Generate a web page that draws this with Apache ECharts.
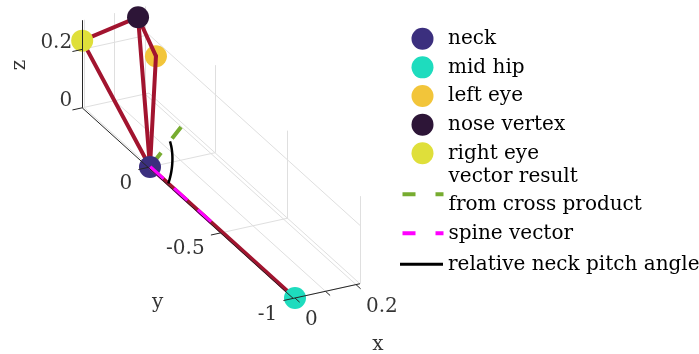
<!DOCTYPE html>
<html>
<head>
<meta charset="utf-8">
<script src="https://cdn.jsdelivr.net/npm/echarts@6/dist/echarts.min.js"></script>
<style>
  html, body { margin: 0; padding: 0; background: #ffffff; }
  #chart { width: 699px; height: 354px; }
</style>
</head>
<body>
<div id="chart"></div>
<script>
// Joint positions (body frame: x lateral, y along the spine, z forward)
const jointNames = ['neck', 'mid hip', 'left eye', 'nose vertex', 'right eye'];
const jointX = [0, 0, 0.213, 0.150, -0.006];
const jointY = [0, -1, 0.407, 0.398, 0.455];
const jointZ = [0, 0, 0.148, 0.300, 0.230];

// Skeleton links, as index pairs into the joint arrays
const linkFrom = [0, 0, 0, 0, 4, 3];
const linkTo   = [1, 4, 3, 2, 3, 2];

// Vectors anchored at the neck
const crossVector = [0.059, -0.090, 0.164];
const spineVector = [0, -0.42, 0];
const angleArcRadius = 0.126;

// Axis limits and ticks
const xLimits = [-0.006, 0.213];
const yLimits = [-1, 0.455];
const zLimits = [0, 0.30];
const xTicks = [0, 0.1, 0.2];
const xTickLabels = ['0', '', '0.2'];
const yTicks = [-1, -0.5, 0];
const yTickLabels = ['-1', '-0.5', '0'];
const zTicks = [0, 0.2];
const zTickLabels = ['0', '0.2'];

// ---- styles ----
const FONT = 'DejaVu Serif';
const FONT_SIZE = 20;
const jointColors = ['#3b2f7e', '#1edcbe', '#f2c53a', '#2d1537', '#dfdf3a'];
const LINK_COLOR = '#a2142f';
const CROSS_COLOR = '#77ac30';
const SPINE_COLOR = '#ff00ff';
const GRID_COLOR = '#dfdfdf';
const AXIS_COLOR = '#262626';
const MARKER_SIZE = 22;

// Orthographic 3-D view: screen displacement (px) per data unit along each axis
const VIEW = { origin: [150, 167], ex: [305, -67], ey: [-145, -131], ez: [0, -292] };
function proj(p) {
  return [
    VIEW.origin[0] + p[0] * VIEW.ex[0] + p[1] * VIEW.ey[0] + p[2] * VIEW.ez[0],
    VIEW.origin[1] + p[0] * VIEW.ex[1] + p[1] * VIEW.ey[1] + p[2] * VIEW.ez[1]
  ];
}
const seg = (a, b) => ({ coords: [proj(a), proj(b)] });
const add = (a, b) => [a[0] + b[0], a[1] + b[1], a[2] + b[2]];
const scale = (a, s) => [a[0] * s, a[1] * s, a[2] * s];
const dot = (a, b) => a[0] * b[0] + a[1] * b[1] + a[2] * b[2];
const norm = a => Math.sqrt(dot(a, a));

const joint = i => [jointX[i], jointY[i], jointZ[i]];
const neck = joint(0);
const [x0, x1] = xLimits, [y0, y1] = yLimits, [z0, z1] = zLimits;

// Grid lines on the floor and the two back walls
const gridSegs = [];
xTicks.forEach(t => {
  gridSegs.push(seg([t, y0, z0], [t, y1, z0]));
  gridSegs.push(seg([t, y1, z0], [t, y1, z1]));
});
yTicks.forEach(t => {
  gridSegs.push(seg([x0, t, z0], [x1, t, z0]));
  gridSegs.push(seg([x1, t, z0], [x1, t, z1]));
});
zTicks.forEach(t => {
  gridSegs.push(seg([x1, y0, t], [x1, y1, t]));
  gridSegs.push(seg([x0, y1, t], [x1, y1, t]));
});

// Axis lines and tick marks
const TICK = 0.032;
const axisSegs = [
  seg([x0, y0, z0], [x1, y0, z0]),
  seg([x0, y0, z0], [x0, y1, z0]),
  seg([x0, y1, z0], [x0, y1, z1])
];
xTicks.forEach(t => axisSegs.push(seg([t, y0, z0], [t, y0 - TICK, z0])));
yTicks.forEach(t => axisSegs.push(seg([x0, t, z0], [x0 - TICK, t, z0])));
zTicks.forEach(t => axisSegs.push(seg([x0, y1, t], [x0 - TICK, y1, t])));

// Skeleton links
const linkSegs = linkFrom.map((f, k) => seg(joint(f), joint(linkTo[k])));

// Angle arc between the spine vector and the cross-product vector
const u = scale(spineVector, 1 / norm(spineVector));
const g = scale(crossVector, 1 / norm(crossVector));
const theta = Math.acos(dot(u, g));
const wRaw = add(g, scale(u, -Math.cos(theta)));
const w = scale(wRaw, 1 / norm(wRaw));
const arcPts = [];
for (let k = 0; k <= 40; k++) {
  const t = theta * k / 40;
  arcPts.push(proj(add(neck, scale(add(scale(u, Math.cos(t)), scale(w, Math.sin(t))), angleArcRadius))));
}

// Text items (tick labels and axis titles); offsets are given in the label's own frame
function textItem(p, text, align, dx, dy, rotate) {
  return {
    value: proj(p),
    label: {
      show: true, formatter: text, position: 'inside', align: align, verticalAlign: 'middle',
      offset: [dx, dy], rotate: rotate || 0,
      fontFamily: FONT, fontSize: FONT_SIZE, color: '#000'
    }
  };
}
const texts = [];
zTicks.forEach((t, i) => texts.push(textItem([x0, y1, t], zTickLabels[i], 'right', -10, -7)));
yTicks.forEach((t, i) => texts.push(textItem([x0, t, z0], yTickLabels[i], 'right', -16, 16)));
xTicks.forEach((t, i) => { if (xTickLabels[i]) texts.push(textItem([t, y0, z0], xTickLabels[i], 'left', 10, 22)); });
texts.push(textItem([x1, y0, z0], 'x', 'center', 18, 61));
texts.push(textItem([x0, (y0 + y1) / 2, z0], 'y', 'center', -30, 100));
texts.push(textItem([x0, y1, (z0 + z1) / 2], 'z', 'center', -1, -62, 90));

const markerZ = [5, 5, 3, 5, 5];
const series = [
  { type: 'lines', coordinateSystem: 'cartesian2d', silent: true, z: 1, data: gridSegs,
    lineStyle: { color: GRID_COLOR, width: 1, opacity: 1 } },
  { type: 'lines', name: 'vector result\nfrom cross product', coordinateSystem: 'cartesian2d', z: 2,
    data: [seg(neck, add(neck, crossVector))],
    lineStyle: { color: CROSS_COLOR, width: 4, type: [18, 18], opacity: 1, cap: 'butt' } },
  { type: 'lines', coordinateSystem: 'cartesian2d', silent: true, z: 4, data: linkSegs,
    lineStyle: { color: LINK_COLOR, width: 4, opacity: 1, cap: 'round' } },
  { type: 'lines', name: 'spine vector', coordinateSystem: 'cartesian2d', z: 6,
    data: [seg(neck, add(neck, spineVector))],
    lineStyle: { color: SPINE_COLOR, width: 4, type: [18, 14], opacity: 1, cap: 'butt' } },
  { type: 'lines', name: 'relative neck pitch angle', coordinateSystem: 'cartesian2d', z: 7, polyline: true,
    data: [{ coords: arcPts }],
    lineStyle: { color: '#000', width: 2.5, opacity: 1 } },
  { type: 'lines', coordinateSystem: 'cartesian2d', silent: true, z: 8, data: axisSegs,
    lineStyle: { color: AXIS_COLOR, width: 1, opacity: 1 } },
  { type: 'scatter', silent: true, z: 9, symbolSize: 0, itemStyle: { color: 'rgba(0,0,0,0)' }, data: texts }
];
jointNames.forEach((name, i) => {
  series.push({
    type: 'scatter', name: name, z: markerZ[i], symbol: 'circle', symbolSize: MARKER_SIZE,
    itemStyle: { color: jointColors[i], opacity: 1 }, data: [proj(joint(i))]
  });
});

// Legend: one block per entry
const legendBase = {
  orient: 'vertical', padding: 0, selectedMode: false, itemGap: 0,
  itemStyle: { borderWidth: 0 },
  textStyle: { fontFamily: FONT, fontSize: FONT_SIZE, color: '#000', lineHeight: 28.3 }
};
const legends = [];
jointNames.forEach((name, i) => {
  legends.push(Object.assign({}, legendBase, {
    left: 411.5, top: 38.7 + 28.65 * i - 14.15, itemWidth: 41, itemHeight: 22,
    data: [{ name: name, icon: 'circle', itemStyle: { color: jointColors[i], borderWidth: 0 } }]
  }));
});
const DASH_ICON = 'path://M0 0H13V4H0ZM33 0H41V4H33Z';
// two-line entry: the dash pair sits a little below the middle of the text block
const DASH_ICON_LOW = 'path://M0 -6.8L0.01 -6.8ZM0 0H13V4H0ZM33 0H41V4H33Z';
legends.push(Object.assign({}, legendBase, {
  left: 402.5, top: 190.9 - 28.3, itemWidth: 41, itemHeight: 10.8,
  data: [{ name: 'vector result\nfrom cross product', icon: DASH_ICON_LOW, itemStyle: { color: CROSS_COLOR, borderWidth: 0 } }]
}));
legends.push(Object.assign({}, legendBase, {
  left: 402.5, top: 233.3 - 14.15, itemWidth: 41, itemHeight: 4,
  data: [{ name: 'spine vector', icon: DASH_ICON, itemStyle: { color: SPINE_COLOR, borderWidth: 0 } }]
}));
legends.push(Object.assign({}, legendBase, {
  left: 400, top: 264.3 - 14.15, itemWidth: 43, itemHeight: 3,
  data: [{ name: 'relative neck pitch angle', icon: 'path://M0 0H43V3H0Z', itemStyle: { color: '#000', borderWidth: 0 } }]
}));

const chart = echarts.init(document.getElementById('chart'), null, { renderer: 'canvas' });
chart.setOption({
  animation: false,
  backgroundColor: '#ffffff',
  grid: { left: 0, right: 0, top: 0, bottom: 0 },
  xAxis: { type: 'value', min: 0, max: 699, show: false },
  yAxis: { type: 'value', min: 0, max: 354, inverse: true, show: false },
  legend: legends,
  series: series
});
</script>
</body>
</html>
